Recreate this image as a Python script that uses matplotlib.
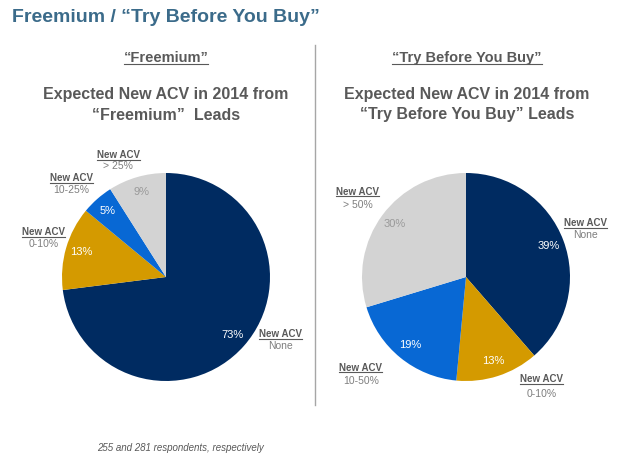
import matplotlib
matplotlib.use('Agg')
import matplotlib.pyplot as plt
from matplotlib.lines import Line2D

# data
free_labels = ['None', '0-10%', '10-25%', '> 25%']
free_values = [73, 13, 5, 9]
tbyb_labels = ['None', '0-10%', '10-50%', '> 50%']
tbyb_values = [39, 13, 19, 30]

slice_colors = ['#002B61', '#D49A00', '#0868D4', '#D3D3D3']
pct_colors = ['white', 'white', 'white', '#9A9A9A']

# where the category labels sit (pie data coords, first and second line)
free_label_pos = [(1.10, -0.58, -0.695), (-1.18, 0.40, 0.285), (-0.91, 0.92, 0.805), (-0.46, 1.14, 1.035)]
tbyb_label_pos = [(1.15, 0.49, 0.375), (0.73, -1.01, -1.155), (-1.01, -0.90, -1.03), (-1.04, 0.79, 0.665)]

W, H = 622, 466
plt.rcParams['font.family'] = ['Liberation Sans', 'DejaVu Sans']
fig = plt.figure(figsize=(W / 100, H / 100), dpi=100)

def fpos(x, y):
  return x / W, 1 - y / H

underlined = []

def draw_pie(cx, values, labels, label_pos):
  r = 104
  lim = 1.4
  side = 2 * lim * r
  cy = 277
  ax = fig.add_axes([(cx - side / 2) / W, (H - cy - side / 2) / H, side / W, side / H])
  wedges, texts, autotexts = ax.pie(values, colors=slice_colors, startangle=90, counterclock=False,
                                    autopct='%.0f%%', pctdistance=0.85,
                                    wedgeprops=dict(linewidth=0))
  for t, c in zip(autotexts, pct_colors):
    t.set_color(c)
    t.set_fontsize(8)
  for lab, (x, y1, y2) in zip(labels, label_pos):
    t = ax.text(x, y1, 'New ACV', ha='center', va='baseline', fontsize=7,
                fontweight='bold', color='#595959')
    underlined.append(t)
    ax.text(x, y2, lab, ha='center', va='baseline', fontsize=7.5, color='#7F7F7F')
  ax.set_xlim(-lim, lim)
  ax.set_ylim(-lim, lim)
  ax.set_aspect('equal')
  ax.axis('off')
  return ax

draw_pie(166, free_values, free_labels, free_label_pos)
draw_pie(466, tbyb_values, tbyb_labels, tbyb_label_pos)

# titles
fig.text(*fpos(12, 22), 'Freemium / \u201cTry Before You Buy\u201d', fontsize=14, fontweight='bold',
         color='#3B6B8A', ha='left', va='baseline')

head_color = '#595959'
for cx, head, line2 in [(166, '\u201cFreemium\u201d', '\u201cFreemium\u201d  Leads'),
                        (467, '\u201cTry Before You Buy\u201d', '\u201cTry Before You Buy\u201d Leads')]:
  t = fig.text(*fpos(cx, 62), head, fontsize=10.5, fontweight='bold', color=head_color,
               ha='center', va='baseline')
  underlined.append(t)
  fig.text(*fpos(cx, 95), 'Expected New ACV in 2014 from', fontsize=11.5, fontweight='bold',
           color=head_color, ha='center', va='center')
  fig.text(*fpos(cx, 115), line2, fontsize=11.5, fontweight='bold',
           color=head_color, ha='center', va='center')

# divider
fig.add_artist(Line2D([315 / W, 315 / W], [1 - 45 / H, 1 - 405 / H], color='#A6A6A6', lw=1))

fig.text(*fpos(97, 451), '255 and 281 respondents, respectively', fontsize=7, style='italic',
         color='#595959', ha='left', va='baseline')

# underline the bold bits
fig.canvas.draw()
renderer = fig.canvas.get_renderer()
for t in underlined:
  bb = t.get_window_extent(renderer)
  base = t.get_transform().transform(t.get_position())[1]
  y = (base - 1.5) / H
  fig.add_artist(Line2D([bb.x0 / W, bb.x1 / W], [y, y], color=t.get_color(), lw=0.8))

fig.savefig('out.png', dpi=100, facecolor='white')
